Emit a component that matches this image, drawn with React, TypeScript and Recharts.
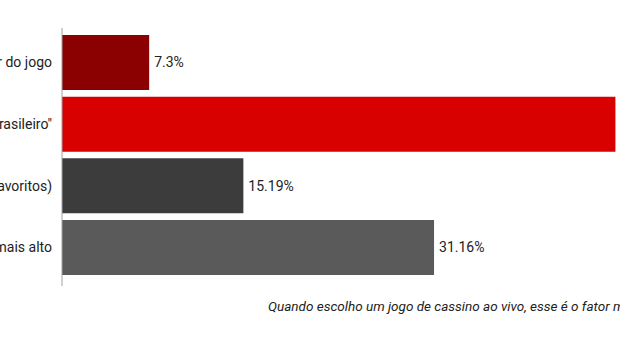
import React from 'react';
import { BarChart, Bar, XAxis, YAxis, Cell, LabelList } from 'recharts';

// categories are cut off on the left in the source picture, only the visible tail is kept
const categories = ['r do jogo', 'brasileiro"', 'favoritos)', 'mais alto'];
const shares = [7.3, 46.35, 15.19, 31.16];
const barColors = ['#8b0000', '#d90000', '#3c3c3c', '#5a5a5a'];
const axisTitle = 'Quando escolho um jogo de cassino ao vivo, esse é o fator m';

const data = categories.map((name, i) => ({ name, value: shares[i] }));

const font = 'Roboto, "Noto Sans", sans-serif';

const AxisTitle = (props: any) => {
  const { viewBox } = props;
  if (!viewBox) return null;
  return (
    <text
      x={viewBox.x + 206}
      y={viewBox.y + 25}
      fill="#222"
      fontSize={13.5}
      fontStyle="italic"
      fontFamily={font}
    >
      {axisTitle}
    </text>
  );
};

export default function App() {
  return (
    <div style={{ position: 'absolute', left: 0, top: 0, width: 620, height: 350, background: '#fff', overflow: 'hidden' }}>
      <BarChart
        width={620}
        height={350}
        data={data}
        layout="vertical"
        margin={{ top: 28, right: -39, bottom: 0, left: 0 }}
        barCategoryGap={3.3}
      >
        <XAxis
          type="number"
          domain={[0, 50]}
          height={64}
          tick={false}
          tickLine={false}
          axisLine={false}
          label={<AxisTitle />}
        />
        <YAxis
          type="category"
          dataKey="name"
          width={62}
          padding={{ top: 3.7, bottom: 7.7 }}
          tickLine={false}
          tickMargin={4}
          axisLine={{ stroke: '#a0a0a0' }}
          tick={{ fill: '#222', fontSize: 14, fontFamily: font }}
        />
        <Bar dataKey="value" isAnimationActive={false}>
          {data.map((d, i) => (
            <Cell key={d.name} fill={barColors[i]} />
          ))}
          <LabelList
            dataKey="value"
            position="right"
            offset={5}
            formatter={(v: any) => `${v}%`}
            fill="#222"
            fontSize={14}
            fontFamily={font}
          />
        </Bar>
      </BarChart>
    </div>
  );
}
